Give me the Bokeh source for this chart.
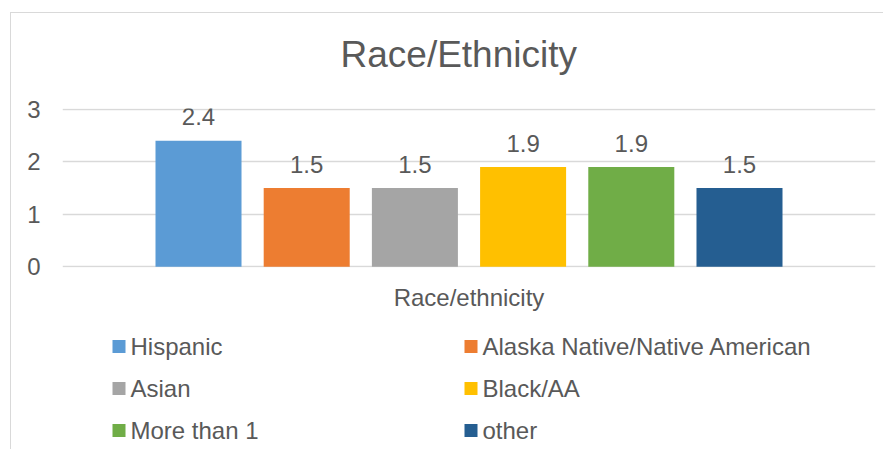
from bokeh.plotting import figure
from bokeh.layouts import column
from bokeh.models import Range1d, FixedTicker, ColumnDataSource
from bokeh.core.properties import value
from bokeh.embed import file_html
from bokeh.resources import INLINE

title_text = "Race/Ethnicity"
axis_title = "Race/ethnicity"
series = ["Hispanic", "Alaska Native/Native American", "Asian", "Black/AA", "More than 1", "other"]
values = [2.4, 1.5, 1.5, 1.9, 1.9, 1.5]
colors = ["#5B9BD5", "#ED7D31", "#A5A5A5", "#FFC000", "#70AD47", "#255E91"]
y_ticks = [0, 1, 2, 3]

FONT = "Liberation Sans"
TXT = "#595959"
W = 872
FRAME_W = 813

n = len(series)
xs = [i - (n - 1) / 2 for i in range(n)]
half = 7.514 / 2

# title strip (frame aligned with the chart frame by the column layout)
TH = 70
tfig = figure(width=W, height=TH, output_backend="svg", toolbar_location=None,
              x_range=Range1d(0, FRAME_W), y_range=Range1d(TH, 0),
              x_axis_location=None, y_axis_location=None,
              min_border_left=51, min_border_right=8, min_border_top=0, min_border_bottom=0,
              outline_line_color=None)
tfig.grid.grid_line_color = None
tsrc = ColumnDataSource(dict(x=[278], y=[41], t=[title_text]))
tfig.text(x="x", y="y", text="t", source=tsrc, text_align="left", text_baseline="middle",
          text_font=value(FONT), text_font_size="37px", text_color=TXT)

p = figure(width=W, height=307 - TH, output_backend="svg", toolbar_location=None,
           x_range=Range1d(-half, half), y_range=Range1d(-0.015, 3.015),
           min_border_left=51, min_border_right=8, min_border_top=95 - TH, min_border_bottom=53)
p.outline_line_color = None

for i in range(n):
    src = ColumnDataSource(dict(x=[xs[i]], top=[values[i]], lab=[f"{values[i]:.1f}"]))
    p.vbar(x="x", top="top", width=0.795, source=src, fill_color=colors[i], line_color=None)
    p.text(x="x", y="top", text="lab", source=src, text_align="center", text_baseline="middle",
           y_offset=-24, text_font=value(FONT), text_font_size="24px", text_color=TXT)

p.yaxis.ticker = FixedTicker(ticks=y_ticks)
p.yaxis.axis_line_color = None
p.yaxis.major_tick_line_color = None
p.yaxis.minor_tick_line_color = None
p.yaxis.major_label_text_font = FONT
p.yaxis.major_label_text_font_size = "24px"
p.yaxis.major_label_text_color = TXT
p.yaxis.major_label_standoff = 16

p.xaxis.ticker = FixedTicker(ticks=[])
p.xaxis.axis_line_color = None
p.xaxis.major_tick_line_color = None
p.xaxis.minor_tick_line_color = None
p.xaxis.axis_label = axis_title
p.xaxis.axis_label_text_font = FONT
p.xaxis.axis_label_text_font_size = "24px"
p.xaxis.axis_label_text_font_style = "normal"
p.xaxis.axis_label_text_color = TXT
p.xaxis.axis_label_standoff = 16

p.xgrid.grid_line_color = None
p.ygrid.ticker = FixedTicker(ticks=y_ticks)
p.ygrid.grid_line_color = "#D9D9D9"
p.ygrid.grid_line_width = 1.5

# legend panel: two columns, three rows, filled row by row
LH = 129
leg = figure(width=W, height=LH, output_backend="svg", toolbar_location=None,
             x_range=Range1d(0, FRAME_W), y_range=Range1d(LH, 0),
             x_axis_location=None, y_axis_location=None,
             min_border_left=51, min_border_right=8, min_border_top=0, min_border_bottom=0,
             outline_line_color=None)
leg.grid.grid_line_color = None
col_x = [56.5, 408.5]
row_y0, row_pitch = 26, 42
lx = [col_x[i % 2] for i in range(n)]
ly = [row_y0 + row_pitch * (i // 2) for i in range(n)]
lsrc = ColumnDataSource(dict(x=lx, y=ly, c=colors, t=series))
leg.rect(x="x", y="y", width=13, height=13, width_units="screen", height_units="screen",
         fill_color="c", line_color=None, source=lsrc)
leg.text(x="x", y="y", text="t", x_offset=11.5, text_align="left", text_baseline="middle",
         text_font=value(FONT), text_font_size="24px", text_color=TXT, source=lsrc)

layout = column(tfig, p, leg, spacing=0)
layout.styles = {"margin-left": "10px", "margin-top": "12px",
                 "border-left": "1px solid #D9D9D9", "border-top": "1px solid #D9D9D9"}

open("out.html", "w").write(file_html(layout, INLINE))
